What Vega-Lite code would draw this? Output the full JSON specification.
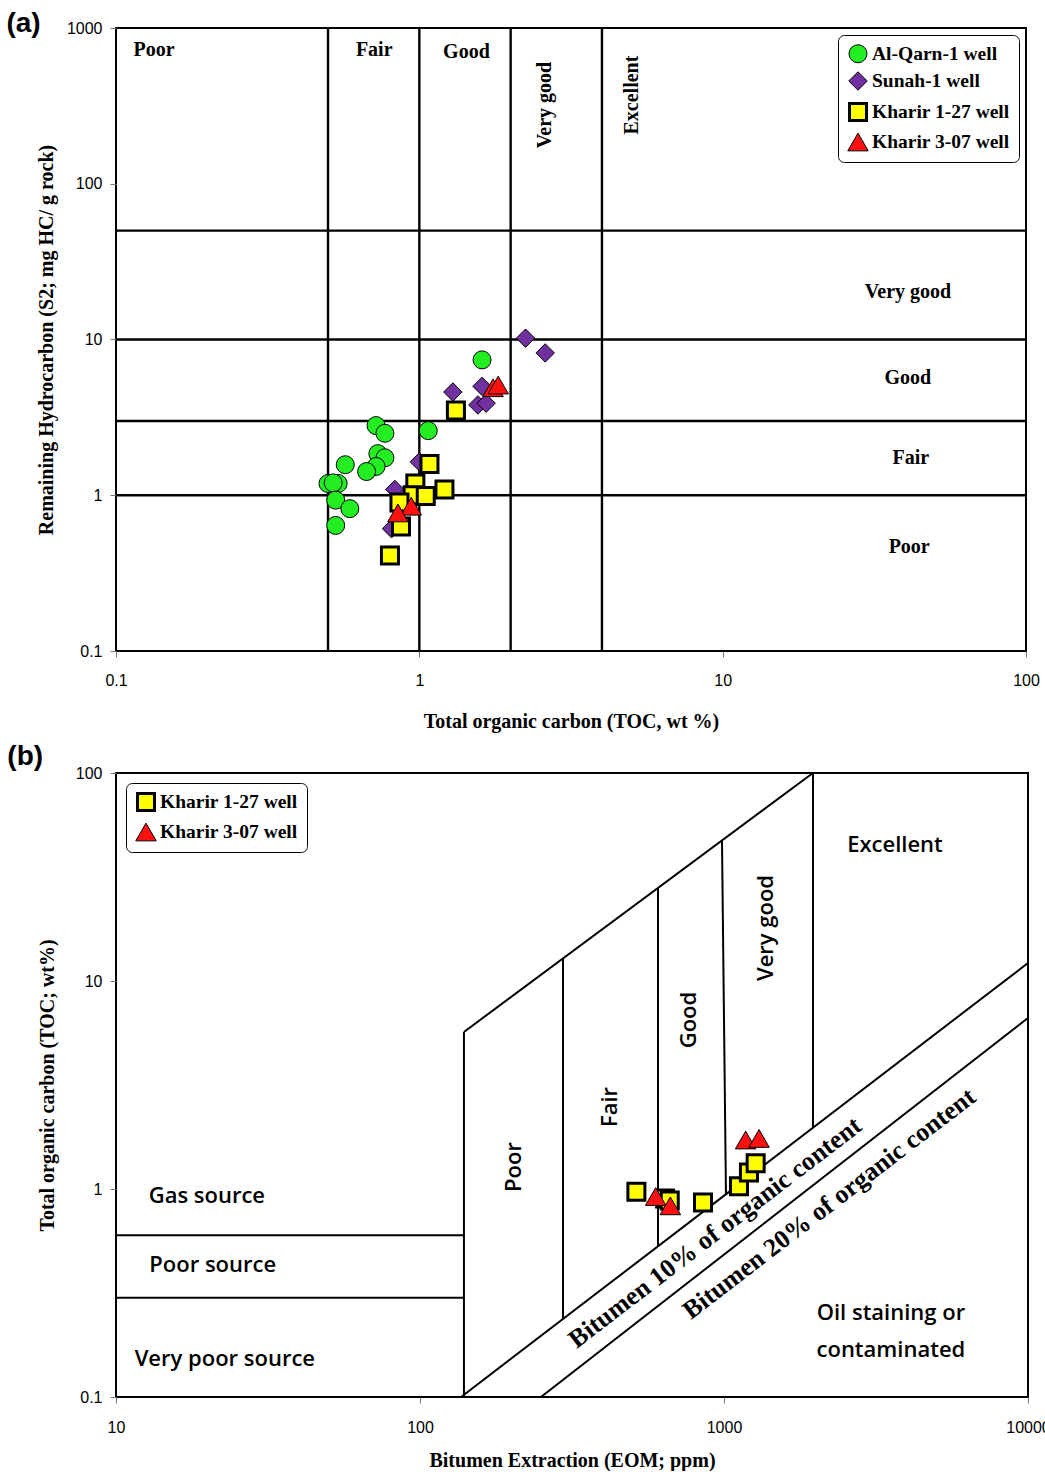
{
  "$schema": "https://vega.github.io/schema/vega-lite/v6.json",
  "background": "white",
  "padding": {"left": 5, "top": 9, "right": 0, "bottom": 0},
  "spacing": 10,
  "config": {
    "view": {"stroke": "black", "strokeWidth": 2},
    "axis": {"grid": false, "domain": false, "ticks": true, "tickColor": "#777", "tickSize": 6, "labelFlush": false,
      "labelFont": "Liberation Sans", "labelFontSize": 16, "labelColor": "black",
      "titleFont": "Liberation Serif", "titleFontSize": 20, "titleFontWeight": "bold", "titleColor": "black"},
    "legend": {"labelFont": "Liberation Serif", "labelFontWeight": "bold", "labelFontSize": 19.5, "labelColor": "black",
      "strokeColor": "black", "fillColor": "white", "cornerRadius": 6, "padding": 9, "rowPadding": 4,
      "symbolStrokeColor": "black", "labelOffset": 3},
    "title": {"font": "Liberation Sans", "fontSize": 28, "fontWeight": "bold", "color": "black"}
  },
  "datasets": {
    "linesA": [
      {"x": 0.5, "x2": 0.5, "y": 0.1, "y2": 1000},
      {"x": 1, "x2": 1, "y": 0.1, "y2": 1000},
      {"x": 2, "x2": 2, "y": 0.1, "y2": 1000},
      {"x": 4, "x2": 4, "y": 0.1, "y2": 1000},
      {"x": 0.1, "x2": 100, "y": 50, "y2": 50},
      {"x": 0.1, "x2": 100, "y": 10, "y2": 10},
      {"x": 0.1, "x2": 100, "y": 3, "y2": 3},
      {"x": 0.1, "x2": 100, "y": 1, "y2": 1}
    ],
    "textA": [
      {"x": 0.1335, "y": 720, "label": "Poor"},
      {"x": 0.71, "y": 720, "label": "Fair"},
      {"x": 1.43, "y": 705, "label": "Good"},
      {"x": 40.8, "y": 20.2, "label": "Very good"},
      {"x": 40.8, "y": 5.65, "label": "Good"},
      {"x": 41.7, "y": 1.73, "label": "Fair"},
      {"x": 41.2, "y": 0.464, "label": "Poor"}
    ],
    "textArot": [
      {"x": 2.6, "y": 320, "label": "Very good"},
      {"x": 5.01, "y": 371, "label": "Excellent"}
    ],
    "pointsA": [
      {"well": "Al-Qarn-1 well", "x": 1.61, "y": 7.4},
      {"well": "Al-Qarn-1 well", "x": 0.72, "y": 2.8},
      {"well": "Al-Qarn-1 well", "x": 0.77, "y": 2.5},
      {"well": "Al-Qarn-1 well", "x": 1.07, "y": 2.6},
      {"well": "Al-Qarn-1 well", "x": 0.73, "y": 1.85},
      {"well": "Al-Qarn-1 well", "x": 0.77, "y": 1.74},
      {"well": "Al-Qarn-1 well", "x": 0.72, "y": 1.53},
      {"well": "Al-Qarn-1 well", "x": 0.67, "y": 1.42},
      {"well": "Al-Qarn-1 well", "x": 0.57, "y": 1.57},
      {"well": "Al-Qarn-1 well", "x": 0.5, "y": 1.19},
      {"well": "Al-Qarn-1 well", "x": 0.54, "y": 1.19},
      {"well": "Al-Qarn-1 well", "x": 0.52, "y": 1.2},
      {"well": "Al-Qarn-1 well", "x": 0.53, "y": 0.93},
      {"well": "Al-Qarn-1 well", "x": 0.59, "y": 0.82},
      {"well": "Al-Qarn-1 well", "x": 0.53, "y": 0.64},
      {"well": "Sunah-1 well", "x": 2.24, "y": 10.2},
      {"well": "Sunah-1 well", "x": 2.6, "y": 8.2},
      {"well": "Sunah-1 well", "x": 1.29, "y": 4.6},
      {"well": "Sunah-1 well", "x": 1.61, "y": 5.0},
      {"well": "Sunah-1 well", "x": 1.56, "y": 3.8},
      {"well": "Sunah-1 well", "x": 1.66, "y": 3.9},
      {"well": "Sunah-1 well", "x": 1.0, "y": 1.64},
      {"well": "Sunah-1 well", "x": 0.83, "y": 1.09},
      {"well": "Sunah-1 well", "x": 0.81, "y": 0.61},
      {"well": "Kharir 1-27 well", "x": 1.32, "y": 3.5},
      {"well": "Kharir 1-27 well", "x": 1.08, "y": 1.59},
      {"well": "Kharir 1-27 well", "x": 0.97, "y": 1.19},
      {"well": "Kharir 1-27 well", "x": 0.95, "y": 1.0},
      {"well": "Kharir 1-27 well", "x": 1.21, "y": 1.09},
      {"well": "Kharir 1-27 well", "x": 1.05, "y": 0.99},
      {"well": "Kharir 1-27 well", "x": 0.86, "y": 0.9},
      {"well": "Kharir 1-27 well", "x": 0.87, "y": 0.63},
      {"well": "Kharir 1-27 well", "x": 0.8, "y": 0.41},
      {"well": "Kharir 3-07 well", "x": 1.75, "y": 4.9},
      {"well": "Kharir 3-07 well", "x": 1.82, "y": 5.1},
      {"well": "Kharir 3-07 well", "x": 0.94, "y": 0.85},
      {"well": "Kharir 3-07 well", "x": 0.85, "y": 0.77}
    ],
    "linesB": [
      {"x": 139.5, "x2": 1962, "y": 5.69, "y2": 100},
      {"x": 139.5, "x2": 139.5, "y": 0.1, "y2": 5.69},
      {"x": 295.4, "x2": 295.4, "y": 0.237, "y2": 12.8},
      {"x": 606.6, "x2": 606.6, "y": 0.531, "y2": 28.0},
      {"x": 984.9, "x2": 1015, "y": 47.3, "y2": 0.944},
      {"x": 1962, "x2": 1962, "y": 100, "y2": 1.974},
      {"x": 136.5, "x2": 10000, "y": 0.1, "y2": 12.2},
      {"x": 250, "x2": 10000, "y": 0.1, "y2": 6.64},
      {"x": 10, "x2": 139.5, "y": 0.6, "y2": 0.6},
      {"x": 10, "x2": 139.5, "y": 0.3, "y2": 0.3}
    ],
    "textB": [
      {"x": 19.9, "y": 0.925, "label": "Gas source"},
      {"x": 20.8, "y": 0.431, "label": "Poor source"},
      {"x": 22.8, "y": 0.152, "label": "Very poor source"},
      {"x": 3651, "y": 45.1, "label": "Excellent"},
      {"x": 3540, "y": 0.2535, "label": "Oil staining or"},
      {"x": 3540, "y": 0.168, "label": "contaminated"}
    ],
    "textBrot": [
      {"x": 203.7, "y": 1.276, "label": "Poor"},
      {"x": 421.7, "y": 2.48, "label": "Fair"},
      {"x": 767.8, "y": 6.49, "label": "Good"},
      {"x": 1374, "y": 17.98, "label": "Very good"}
    ],
    "textBdiag": [
      {"x": 935, "y": 0.617, "label": "Bitumen 10% of organic content"},
      {"x": 2220, "y": 0.85, "label": "Bitumen 20% of organic content"}
    ],
    "pointsB": [
      {"well": "Kharir 1-27 well", "x": 515, "y": 0.97},
      {"well": "Kharir 1-27 well", "x": 640, "y": 0.9},
      {"well": "Kharir 1-27 well", "x": 663, "y": 0.88},
      {"well": "Kharir 1-27 well", "x": 853, "y": 0.86},
      {"well": "Kharir 1-27 well", "x": 1120, "y": 1.03},
      {"well": "Kharir 1-27 well", "x": 1208, "y": 1.2},
      {"well": "Kharir 1-27 well", "x": 1271, "y": 1.33},
      {"well": "Kharir 3-07 well", "x": 1178, "y": 1.72},
      {"well": "Kharir 3-07 well", "x": 1304, "y": 1.75},
      {"well": "Kharir 3-07 well", "x": 596, "y": 0.92},
      {"well": "Kharir 3-07 well", "x": 666, "y": 0.83}
    ]
  },
  "resolve": {
    "scale": {"color": "independent", "shape": "independent", "size": "independent", "strokeWidth": "independent"},
    "legend": {"color": "independent", "shape": "independent", "size": "independent", "strokeWidth": "independent"}
  },
  "vconcat": [
    {
      "width": 910,
      "height": 623,
      "title": {"text": "(a)", "anchor": "start", "frame": "bounds", "offset": -18, "dx": -30},
      "encoding": {
        "x": {"field": "x", "type": "quantitative",
          "scale": {"type": "log", "domain": [0.1, 100]},
          "axis": {"values": [0.1, 1, 10, 100], "format": "~g", "title": "Total organic carbon (TOC, wt %)", "labelPadding": 15, "titlePadding": 23}},
        "y": {"field": "y", "type": "quantitative",
          "scale": {"type": "log", "domain": [0.1, 1000]},
          "axis": {"values": [0.1, 1, 10, 100, 1000], "format": "~g", "title": "Remaining Hydrocarbon (S2; mg HC/ g rock)", "labelPadding": 8, "titlePadding": 10}}
      },
      "layer": [
        {
          "data": {"name": "linesA"},
          "mark": {"type": "rule", "stroke": "black", "strokeWidth": 2.4},
          "encoding": {"x2": {"field": "x2"}, "y2": {"field": "y2"}}
        },
        {
          "data": {"name": "textA"},
          "mark": {"type": "text", "font": "Liberation Serif", "fontWeight": "bold", "fontSize": 20, "color": "black"},
          "encoding": {"text": {"field": "label"}}
        },
        {
          "data": {"name": "textArot"},
          "mark": {"type": "text", "font": "Liberation Serif", "fontWeight": "bold", "fontSize": 20, "color": "black", "angle": 270},
          "encoding": {"text": {"field": "label"}}
        },
        {
          "data": {"name": "pointsA"},
          "mark": {"type": "point", "filled": true, "stroke": "black", "opacity": 1},
          "encoding": {
            "color": {"field": "well", "type": "nominal",
              "scale": {"domain": ["Al-Qarn-1 well", "Sunah-1 well", "Kharir 1-27 well", "Kharir 3-07 well"], "range": ["#22ee22", "#7030a0", "#ffff00", "#ff1010"]},
              "legend": {"title": null, "orient": "top-right", "offset": 7}},
            "shape": {"field": "well", "type": "nominal",
              "scale": {"domain": ["Al-Qarn-1 well", "Sunah-1 well", "Kharir 1-27 well", "Kharir 3-07 well"], "range": ["circle", "diamond", "square", "triangle-up"]},
              "legend": {"title": null, "orient": "top-right", "offset": 7}},
            "size": {"field": "well", "type": "nominal",
              "scale": {"type": "ordinal", "domain": ["Al-Qarn-1 well", "Sunah-1 well", "Kharir 1-27 well", "Kharir 3-07 well"], "range": [324, 340, 289, 420]},
              "legend": {"title": null, "orient": "top-right", "offset": 7}},
            "strokeWidth": {"field": "well", "type": "nominal",
              "scale": {"type": "ordinal", "domain": ["Al-Qarn-1 well", "Sunah-1 well", "Kharir 1-27 well", "Kharir 3-07 well"], "range": [1, 1, 3, 1]},
              "legend": {"title": null, "orient": "top-right", "offset": 7}}
          }
        }
      ]
    },
    {
      "width": 912,
      "height": 624,
      "title": {"text": "(b)", "anchor": "start", "frame": "bounds", "offset": -6, "dx": -30},
      "encoding": {
        "x": {"field": "x", "type": "quantitative",
          "scale": {"type": "log", "domain": [10, 10000]},
          "axis": {"values": [10, 100, 1000, 10000], "format": "~g", "title": "Bitumen Extraction (EOM; ppm)", "labelPadding": 16, "titlePadding": 15}},
        "y": {"field": "y", "type": "quantitative",
          "scale": {"type": "log", "domain": [0.1, 100]},
          "axis": {"values": [0.1, 1, 10, 100], "format": "~g", "title": "Total organic carbon (TOC; wt%)", "labelPadding": 8, "titlePadding": 18}}
      },
      "layer": [
        {
          "data": {"name": "linesB"},
          "mark": {"type": "rule", "stroke": "black", "strokeWidth": 2},
          "encoding": {"x2": {"field": "x2"}, "y2": {"field": "y2"}}
        },
        {
          "data": {"name": "textB"},
          "mark": {"type": "text", "font": "Open Sans", "fontWeight": 600, "fontSize": 22, "color": "black"},
          "encoding": {"text": {"field": "label"}}
        },
        {
          "data": {"name": "textBrot"},
          "mark": {"type": "text", "font": "Open Sans", "fontWeight": 600, "fontSize": 22, "color": "black", "angle": 270},
          "encoding": {"text": {"field": "label"}}
        },
        {
          "data": {"name": "textBdiag"},
          "mark": {"type": "text", "font": "Liberation Serif", "fontWeight": "bold", "fontSize": 26, "color": "black", "angle": 322.5},
          "encoding": {"text": {"field": "label"}}
        },
        {
          "data": {"name": "pointsB"},
          "mark": {"type": "point", "filled": true, "stroke": "black", "opacity": 1},
          "encoding": {
            "color": {"field": "well", "type": "nominal",
              "scale": {"domain": ["Kharir 1-27 well", "Kharir 3-07 well"], "range": ["#ffff00", "#ff1010"]},
              "legend": {"title": null, "orient": "top-left", "offset": 10}},
            "shape": {"field": "well", "type": "nominal",
              "scale": {"domain": ["Kharir 1-27 well", "Kharir 3-07 well"], "range": ["square", "triangle-up"]},
              "legend": {"title": null, "orient": "top-left", "offset": 10}},
            "size": {"field": "well", "type": "nominal",
              "scale": {"type": "ordinal", "domain": ["Kharir 1-27 well", "Kharir 3-07 well"], "range": [289, 420]},
              "legend": {"title": null, "orient": "top-left", "offset": 10}},
            "strokeWidth": {"field": "well", "type": "nominal",
              "scale": {"type": "ordinal", "domain": ["Kharir 1-27 well", "Kharir 3-07 well"], "range": [3, 1]},
              "legend": {"title": null, "orient": "top-left", "offset": 10}}
          }
        }
      ]
    }
  ]
}
